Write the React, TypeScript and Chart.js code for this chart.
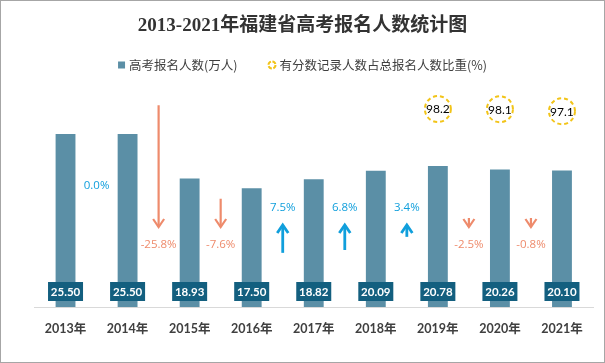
import { useEffect, useRef } from 'react';
import { Chart, registerables } from 'chart.js';

Chart.register(...registerables);

const chartTitle = '2013-2021年福建省高考报名人数统计图';
const seriesNames = ['高考报名人数(万人)', '有分数记录人数占总报名人数比重(%)'];
const categories = ['2013年', '2014年', '2015年', '2016年', '2017年', '2018年', '2019年', '2020年', '2021年'];
const applicants = [25.5, 25.5, 18.93, 17.5, 18.82, 20.09, 20.78, 20.26, 20.1];
const applicantLabels = ['25.50', '25.50', '18.93', '17.50', '18.82', '20.09', '20.78', '20.26', '20.10'];
const yoyChange = [0.0, -25.8, -7.6, 7.5, 6.8, 3.4, -2.5, -0.8];
const scoredShare: (number | null)[] = [null, null, null, null, null, null, 98.2, 98.1, 97.1];

const BAR = '#5b8fa6';
const BOX = '#135f7f';
const UP = '#109fdc';
const DOWN = '#ee8b6c';
const RING = '#f2c418';
const TEXT = '#404040';

function drawArrow(ctx: CanvasRenderingContext2D, x: number, fromY: number, toY: number, color: string, lw: number) {
  ctx.save();
  ctx.strokeStyle = color;
  ctx.lineWidth = lw;
  ctx.lineJoin = 'miter';
  ctx.lineCap = 'butt';
  ctx.beginPath();
  ctx.moveTo(x, fromY);
  ctx.lineTo(x, toY);
  ctx.stroke();
  const dir = toY > fromY ? 1 : -1;
  ctx.beginPath();
  ctx.moveTo(x - 5.5, toY - dir * 8);
  ctx.lineTo(x, toY);
  ctx.lineTo(x + 5.5, toY - dir * 8);
  ctx.stroke();
  ctx.restore();
}

const decor = {
  id: 'decor',
  beforeDraw(chart: any) {
    const { ctx, width, height } = chart;
    ctx.save();
    ctx.fillStyle = '#ffffff';
    ctx.fillRect(0, 0, width, height);
    ctx.restore();
  },
  afterDatasetsDraw(chart: any) {
    const ctx: CanvasRenderingContext2D = chart.ctx;
    const xs = chart.scales.x;
    const ys = chart.scales.y;
    const base = ys.getPixelForValue(0);
    const barMeta = chart.getDatasetMeta(0);

    ctx.save();
    ctx.textAlign = 'center';
    ctx.textBaseline = 'middle';
    ctx.font = 'bold 11.5px Lato, "Noto Sans CJK SC", sans-serif';
    barMeta.data.forEach((bar: any, i: number) => {
      const cx = bar.x;
      const cy = base - 15.5;
      ctx.fillStyle = BOX;
      ctx.fillRect(cx - 17.5, cy - 9.5, 35, 19);
      ctx.fillStyle = '#ffffff';
      ctx.fillText(applicantLabels[i], cx, cy + 0.5);
    });

    ctx.font = '11.5px "Open Sans", "Noto Sans CJK SC", sans-serif';
    yoyChange.forEach((v, i) => {
      const cx = (xs.getPixelForValue(i) + xs.getPixelForValue(i + 1)) / 2;
      const txt = v.toFixed(1) + '%';
      const len = Math.max(9, 3.3 * Math.abs(v) + 0.055 * v * v);
      if (v === 0) {
        ctx.fillStyle = UP;
        ctx.fillText(txt, cx, base - 121);
      } else if (v < 0) {
        const tip = base - 80;
        drawArrow(ctx, cx, tip - len, tip, DOWN, 2.2);
        ctx.fillStyle = DOWN;
        ctx.fillText(txt, cx, tip + 18);
      } else {
        const tip = base - 82;
        drawArrow(ctx, cx, tip + len, tip, UP, 2.8);
        ctx.fillStyle = UP;
        ctx.fillText(txt, cx, tip - 17);
      }
    });

    const lineMeta = chart.getDatasetMeta(1);
    ctx.font = '12px Lato, "Noto Sans CJK SC", sans-serif';
    lineMeta.data.forEach((pt: any, i: number) => {
      const v = scoredShare[i];
      if (v == null) return;
      ctx.save();
      ctx.beginPath();
      ctx.arc(pt.x, pt.y, 13, 0, Math.PI * 2);
      ctx.fillStyle = '#ffffff';
      ctx.fill();
      ctx.setLineDash([4, 3]);
      ctx.strokeStyle = RING;
      ctx.lineWidth = 2;
      ctx.stroke();
      ctx.restore();
      ctx.fillStyle = '#000000';
      ctx.fillText(v.toFixed(1), pt.x, pt.y + 0.5);
    });
    ctx.restore();
  },
  afterDraw(chart: any) {
    const ctx: CanvasRenderingContext2D = chart.ctx;
    const { width, height } = chart;
    ctx.save();
    ctx.font = '12.5px "Noto Sans CJK SC", sans-serif';
    ctx.textBaseline = 'middle';
    ctx.textAlign = 'left';
    const w1 = ctx.measureText(seriesNames[0]).width;
    const w2 = ctx.measureText(seriesNames[1]).width;
    const total = 7 + 4 + w1 + 30 + 9 + 3 + w2;
    let x = 302.5 - total / 2;
    const y = 65;
    ctx.fillStyle = BAR;
    ctx.fillRect(x, y - 3.5, 7, 7);
    x += 11;
    ctx.fillStyle = TEXT;
    ctx.fillText(seriesNames[0], x, y);
    x += w1 + 30;
    ctx.beginPath();
    ctx.arc(x + 4.5, y, 3.5, 0, Math.PI * 2);
    ctx.strokeStyle = RING;
    ctx.lineWidth = 2;
    ctx.setLineDash([4, 1.5]);
    ctx.stroke();
    ctx.setLineDash([]);
    x += 12;
    ctx.fillStyle = TEXT;
    ctx.fillText(seriesNames[1], x, y);
    ctx.strokeStyle = '#a6a6a6';
    ctx.lineWidth = 1;
    ctx.strokeRect(0.5, 0.5, width - 1, height - 1);
    ctx.restore();
  },
};

export default function App() {
  const ref = useRef<HTMLCanvasElement | null>(null);
  useEffect(() => {
    document.body.style.margin = '0';
    if (!ref.current) return;
    const chart = new Chart(ref.current, {
      type: 'bar',
      data: {
        labels: categories,
        datasets: [
          {
            type: 'bar',
            label: seriesNames[0],
            data: applicants,
            backgroundColor: BAR,
            barPercentage: 0.32,
            categoryPercentage: 1,
            yAxisID: 'y',
          },
          {
            type: 'line',
            label: seriesNames[1],
            data: scoredShare,
            showLine: false,
            pointRadius: 0,
            borderColor: RING,
            yAxisID: 'y2',
          } as any,
        ],
      },
      options: {
        responsive: true,
        maintainAspectRatio: false,
        animation: false,
        layout: { padding: { left: 0, right: 0, top: 0, bottom: 13 } },
        plugins: {
          legend: { display: false },
          tooltip: { enabled: false },
          title: {
            display: true,
            text: chartTitle,
            color: '#333333',
            font: { family: '"Liberation Serif", "Noto Sans CJK SC", serif', size: 19, weight: 'bold' },
            padding: { top: 15, bottom: 65.6 },
          },
        },
        scales: {
          x: {
            grid: { display: false, drawTicks: false },
            border: { display: true, color: '#d9d9d9', width: 1 },
            ticks: {
              color: TEXT,
              padding: 14,
              font: { family: 'Lato, "Noto Sans CJK SC", sans-serif', size: 12.5, weight: 'bold' },
            },
          },
          y: {
            position: 'left',
            min: 0,
            max: 30,
            grid: { display: false },
            border: { display: false },
            ticks: { display: false },
            afterFit: (s: any) => {
              s.width = 34.5;
            },
          },
          y2: {
            position: 'right',
            min: 0,
            max: 101,
            grid: { display: false },
            border: { display: false },
            ticks: { display: false },
            afterFit: (s: any) => {
              s.width = 12;
            },
          },
        },
      },
      plugins: [decor],
    });
    return () => chart.destroy();
  }, []);
  return (
    <div style={{ position: 'absolute', left: 0, top: 0, width: 605, height: 363 }}>
      <canvas ref={ref} />
    </div>
  );
}
